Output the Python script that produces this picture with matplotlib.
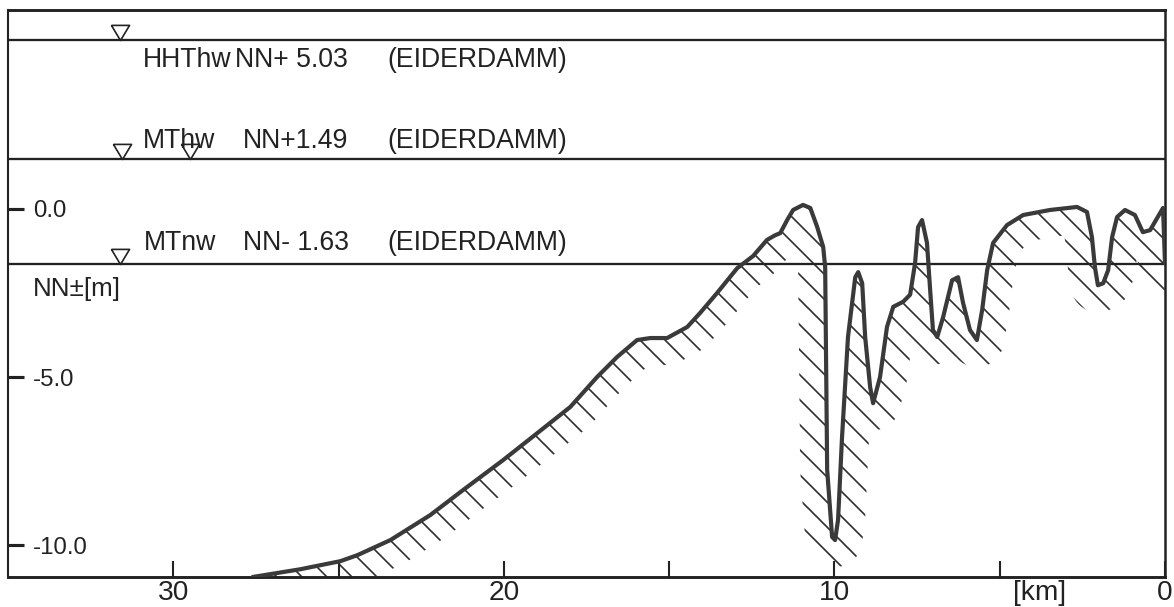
import numpy as np
import matplotlib
matplotlib.use("Agg")
import matplotlib.pyplot as plt

# ---------------- data ----------------
km = [27.6, 26.16, 24.95, 24.43, 23.43, 22.23, 21.23, 20.02, 18.99, 17.99, 17.18, 16.57,
      15.97, 15.57, 15.06, 14.45, 14.06, 13.55, 12.94, 12.46, 12.04, 11.79, 11.64, 11.43,
      11.25, 10.95, 10.73, 10.52, 10.34, 10.28, 10.22, 10.07, 9.98, 9.89, 9.77, 9.59,
      9.37, 9.28, 9.16, 9.07, 8.92, 8.83, 8.62, 8.41, 8.22, 7.92, 7.71, 7.56, 7.47, 7.35,
      7.20, 7.11, 7.02, 6.89, 6.71, 6.44, 6.26, 6.11, 5.90, 5.69, 5.53, 5.38, 5.20, 4.78,
      4.29, 3.48, 2.66, 2.36, 2.21, 2.12, 2.03, 1.87, 1.72, 1.60, 1.45, 1.21, 0.91, 0.67,
      0.45, 0.06, 0.0]
nn = [-10.95, -10.72, -10.48, -10.30, -9.85, -9.11, -8.36, -7.47, -6.67, -5.89, -5.0, -4.40,
      -3.90, -3.84, -3.84, -3.51, -3.09, -2.50, -1.76, -1.40, -0.92, -0.78, -0.72, -0.33,
      -0.03, 0.12, 0.03, -0.54, -1.13, -1.73, -7.76, -9.76, -9.85, -9.25, -6.79, -3.81,
      -2.03, -1.88, -2.21, -3.81, -5.30, -5.78, -5.0, -3.51, -2.91, -2.76, -2.55, -1.61,
      -0.54, -0.33, -1.01, -2.33, -3.60, -3.81, -3.21, -2.12, -2.03, -2.79, -3.60, -3.90,
      -3.00, -1.82, -1.01, -0.48, -0.18, -0.03, 0.06, -0.09, -0.84, -1.73, -2.27, -2.21,
      -1.82, -0.84, -0.24, -0.03, -0.18, -0.69, -0.63, 0.03, -1.62]

level_names = ["HHThw", "MThw", "MTnw"]
level_texts = ["NN+ 5.03", "NN+1.49", "NN- 1.63"]
level_values = [5.03, 1.49, -1.63]
level_source = "(EIDERDAMM)"
marker_km = [31.6, 31.55, 29.5, 31.6]
marker_level = [5.03, 1.49, 1.49, -1.63]

xtick_pos = [30, 25, 20, 15, 10, 5, 0]
xtick_labels = ["30", "", "20", "", "10", "", "0"]
unit_x_pos = [3.8]
unit_x_label = ["[km]"]
ytick_pos = [0, -5, -10]
ytick_labels = ["0.0", "-5.0", "-10.0"]
ylabel_text = "NN\u00b1[m]"

# ---------------- figure ----------------
DPI = 75
W, H = 1174, 607
plt.rcParams['font.family'] = ['Liberation Sans', 'DejaVu Sans']
plt.rcParams['hatch.linewidth'] = 1.6
ink = '#222222'

fig = plt.figure(figsize=(W / DPI, H / DPI), dpi=DPI)
ax = fig.add_axes([8 / W, 30 / H, 1157 / W, 567 / H])
ax.set_xlim(35.0, 0.0)
ax.set_ylim(-10.95, 5.92)

for side, lw in [('top', 2.8), ('bottom', 2.8), ('left', 2.0), ('right', 2.4)]:
    ax.spines[side].set_linewidth(lw)
    ax.spines[side].set_color(ink)

# hatched band below the profile (offset envelope computed in display space)
disp = ax.transData.transform(np.column_stack([km, nn]))
dense = []
for p, q in zip(disp[:-1], disp[1:]):
    n = int(np.ceil(np.hypot(*(q - p)))) + 2
    t = np.linspace(0, 1, n)[:-1]
    dense.append(p + np.outer(t, q - p))
dense.append(disp[-1:])
dense = np.vstack(dense)
gx = np.arange(disp[0, 0], disp[-1, 0], 0.5)
gy = np.interp(gx, disp[:, 0], disp[:, 1])
band = 27.0
dx = gx[:, None] - dense[None, :, 0]
cand = np.where(np.abs(dx) < band,
                dense[None, :, 1] - np.sqrt(np.clip(band ** 2 - dx ** 2, 0, None)),
                np.inf)
low = np.minimum(cand.min(axis=1), gy)
inv = ax.transData.inverted()
top_d = inv.transform(np.column_stack([gx, gy]))
low_d = inv.transform(np.column_stack([gx, low]))
ax.fill_between(top_d[:, 0], low_d[:, 1], top_d[:, 1], facecolor='none',
                edgecolor='#2e2e2e', hatch='\\', linewidth=0, zorder=1)

# profile line
ax.plot(km, nn, color='#3a3a3a', lw=4.0, solid_capstyle='round',
        solid_joinstyle='round', zorder=3)

# water levels
for v in level_values:
    ax.axhline(v, color=ink, lw=2.2, zorder=2)

tri = [(-0.6, 1.0), (0.6, 1.0), (0.0, 0.0), (-0.6, 1.0)]
ax.plot(marker_km, marker_level, linestyle='none', marker=tri, markersize=29,
        markerfacecolor='none', markeredgecolor=ink, markeredgewidth=1.6, zorder=4)

fs = 25.5
baselines = [4.23, 1.82, -1.22]
name_x = [30.93, 30.93, 30.90]
val_x = [28.13, 27.88, 27.88]
for name, txt, yb, nx, vx in zip(level_names, level_texts, baselines, name_x, val_x):
    ax.text(nx, yb, name, fontsize=fs, va='baseline', ha='left', color=ink)
    ax.text(vx, yb, txt, fontsize=fs, va='baseline', ha='left', color=ink)
    ax.text(23.53, yb, level_source, fontsize=fs, va='baseline', ha='left', color=ink)

ax.text(34.25, -2.59, ylabel_text, fontsize=25, va='baseline', ha='left', color=ink)

# ticks
ax.set_xticks(xtick_pos, labels=xtick_labels)
ax.set_xticks(unit_x_pos, labels=unit_x_label, minor=True)
ax.tick_params(axis='x', which='major', direction='in', length=15, width=2.0,
               color=ink, labelsize=27, pad=3, labelcolor=ink)
ax.tick_params(axis='x', which='minor', length=0, labelsize=27, pad=3, labelcolor=ink)
ax.set_yticks(ytick_pos, labels=ytick_labels)
ax.tick_params(axis='y', direction='in', length=15, width=3.0, color=ink,
               labelsize=23, pad=-24, labelcolor=ink)
for lab in ax.get_yticklabels():
    lab.set_horizontalalignment('left')

fig.savefig('out.png', dpi=DPI, facecolor='white')
